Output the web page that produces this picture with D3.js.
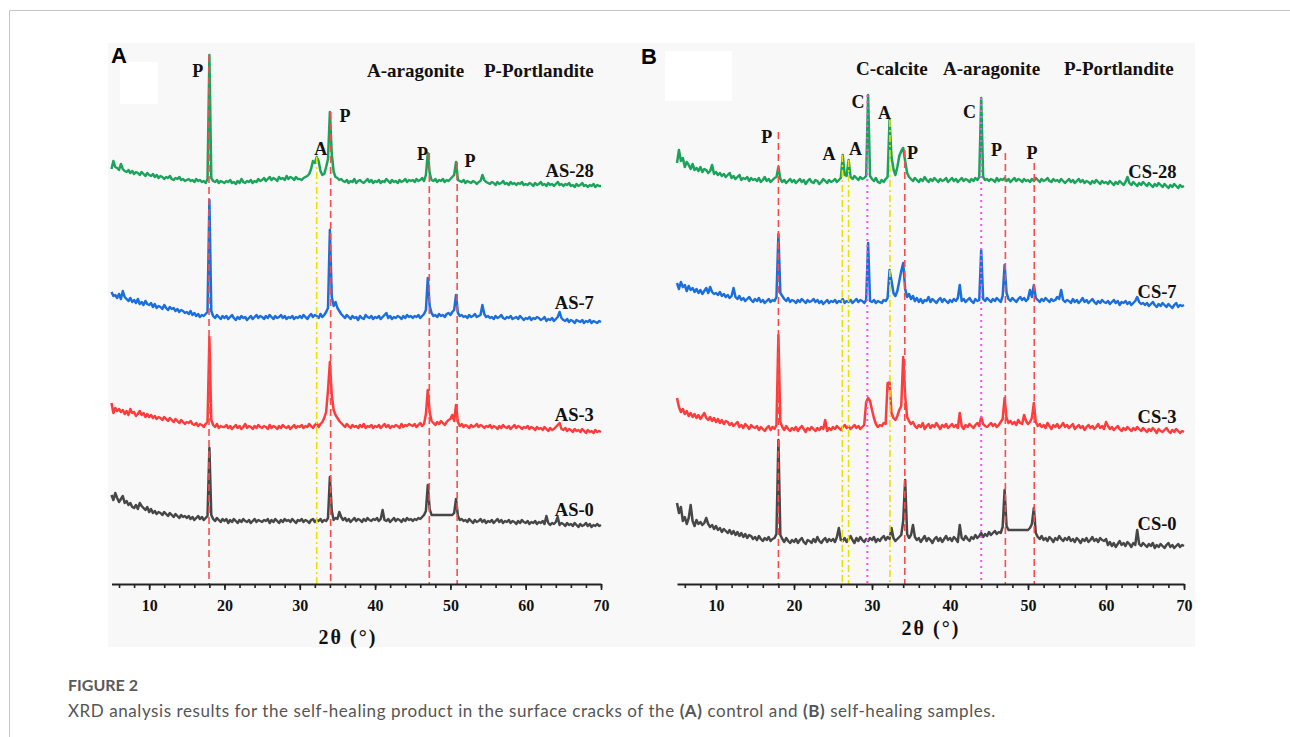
<!DOCTYPE html>
<html>
<head>
<meta charset="utf-8">
<script src="https://cdn.jsdelivr.net/npm/d3@7"></script>
<style>
body { margin: 0; background: #fff; }
.serif { font-family: "Liberation Serif", "Times New Roman", serif; font-weight: bold; fill: #111; }
.axis text { font-family: "Liberation Serif", "Times New Roman", serif; font-weight: bold; font-size: 16px; fill: #111; }
.axis path, .axis line { stroke: #222; }
.axis path { stroke-width: 2; }
.axis line { stroke-width: 1.6; }
</style>
</head>
<body>
<svg width="1290" height="737"></svg>
<script>
// 2-theta grid, 5..70 deg every 0.25 deg
var twoTheta = d3.range(261).map(function(i) { return 5 + i * 0.25; });
var xTicks = [10, 20, 30, 40, 50, 60, 70];

// intensities (a.u.), each relative to its own stacked baseline
var as28 = [
 20,28,22,21,19,25,20,18,17,19,16,18,15,17,16,14,17,15,13,16,
 14,13,15,12,14,11,13,12,10,12,11,13,10,9,11,10,12,9,10,8,
 9,10,8,9,7,10,8,9,7,8,6,10,134,11,8,7,9,6,8,7,
 6,8,7,9,6,7,5,8,6,10,7,6,8,7,9,6,8,7,10,8,
 9,11,8,10,12,9,11,10,8,12,10,11,9,13,10,12,11,9,12,10,
 10,9,11,12,13,15,20,28,26,32,28,18,14,15,22,30,77,35,17,12,
 11,9,10,8,7,9,6,8,7,10,6,8,9,7,6,8,10,7,9,6,
 8,7,9,6,8,7,10,8,6,9,7,8,6,9,7,8,10,7,9,8,
 9,7,10,8,9,11,8,14,36,16,9,8,10,7,9,8,10,7,9,8,
 10,12,14,27,9,8,7,9,6,8,7,6,8,7,5,7,8,14,9,7,
 6,5,7,6,4,7,5,6,8,5,6,4,7,5,6,4,6,5,7,4,
 5,4,6,5,3,6,4,5,7,4,5,3,6,4,5,3,5,7,4,5,
 3,5,4,6,3,4,2,5,3,4,6,3,4,2,4,3,5,2,4,3,
 3];
var as7 = [
 34,30,31,28,32,27,35,29,27,25,28,24,26,23,27,22,24,21,25,22,
 21,23,19,22,18,20,19,17,21,18,16,19,17,18,15,17,14,16,15,13,
 14,12,15,11,13,10,12,9,11,10,12,14,126,15,10,8,11,9,7,10,
 8,10,7,9,11,8,6,9,7,10,8,9,6,8,10,7,9,11,8,10,
 9,7,10,8,11,9,7,10,8,9,11,8,10,7,9,8,10,7,9,8,
 10,8,11,9,7,10,12,9,11,10,8,12,9,11,14,18,96,29,20,24,
 18,15,12,10,8,11,9,7,10,8,9,6,10,8,7,11,9,8,10,7,
 9,8,10,7,9,11,13,8,10,7,9,8,10,9,7,10,8,11,9,10,
 8,10,9,11,8,10,12,16,48,20,13,10,11,9,12,10,11,9,12,13,
 11,14,16,31,13,10,11,9,10,8,11,9,10,12,9,10,11,21,12,9,
 10,8,9,7,10,8,9,11,8,7,9,8,10,7,8,9,7,10,8,6,
 8,7,9,6,8,7,9,8,6,7,9,5,7,6,8,5,7,9,14,8,
 6,5,7,4,6,5,3,6,5,4,6,3,5,4,6,3,5,4,3,5,
 4];
var as3 = [
 33,23,28,25,27,24,26,22,25,21,27,23,24,20,22,25,21,23,19,22,
 19,21,18,20,17,19,18,16,19,17,15,18,16,14,17,15,13,16,14,12,
 14,13,15,12,11,13,10,12,11,9,12,14,99,16,11,9,12,8,10,9,
 9,11,8,10,7,9,11,8,10,7,9,12,8,10,9,7,10,8,11,9,
 8,10,9,7,11,8,10,9,7,10,8,11,9,8,10,7,9,11,8,10,
 9,11,8,10,9,12,10,8,11,13,9,12,14,18,24,46,74,41,26,21,
 18,15,13,11,9,12,10,8,11,9,10,8,11,9,12,8,10,9,11,8,
 10,9,11,8,10,12,9,11,8,10,9,11,10,8,12,9,11,10,12,11,
 10,12,9,11,13,10,12,22,46,24,15,13,11,14,12,15,13,11,14,16,
 17,21,15,31,14,10,12,9,11,10,8,11,9,10,12,9,11,10,8,10,
 9,11,8,10,9,7,10,8,11,9,8,10,7,9,11,8,10,9,7,9,
 8,10,7,9,8,6,9,7,8,6,9,7,5,8,6,7,9,11,13,7,
 6,8,5,7,6,4,7,5,6,4,7,5,3,6,4,5,3,6,4,5,
 4];
var as0 = [
 34,29,36,31,27,30,33,26,28,24,26,22,21,24,20,26,23,21,19,22,
 17,20,16,18,15,17,16,14,17,15,13,16,14,12,15,13,11,14,12,13,
 11,13,10,12,9,11,13,10,12,9,11,13,81,14,10,8,11,9,7,10,
 8,10,6,9,7,10,8,6,9,7,10,8,7,9,6,8,10,7,9,8,
 7,9,8,10,6,9,7,10,8,6,9,7,10,8,9,7,10,8,6,9,
 8,10,7,9,8,6,9,10,7,9,8,10,7,9,8,11,52,18,9,11,
 10,17,12,9,11,8,10,7,9,11,8,10,9,7,10,8,11,9,8,10,
 9,11,8,10,19,9,8,10,7,9,11,8,10,9,7,10,8,11,9,10,
 8,10,9,11,10,12,14,18,44,20,14,14,14,14,14,14,14,14,14,14,
 14,14,16,30,13,9,10,8,9,7,10,8,6,9,7,8,10,7,9,6,
 8,7,9,6,8,10,7,9,6,8,7,9,6,8,7,5,8,6,9,7,
 6,8,5,7,6,8,5,7,6,8,5,13,6,4,6,5,7,12,4,6,
 5,3,6,4,5,3,6,4,2,5,3,4,6,3,5,2,4,3,5,3,
 4];

var cs28 = [
 28,41,30,33,24,29,26,22,27,21,23,20,24,19,22,21,18,20,26,17,
 19,16,18,15,17,14,16,18,13,15,12,14,16,11,13,12,14,10,13,11,
 12,10,13,9,11,14,10,12,9,11,13,14,24,12,9,11,8,10,12,9,
 11,8,10,12,9,11,7,10,12,9,8,11,10,7,9,12,10,8,11,9,
 10,12,9,11,13,36,16,15,31,14,12,15,13,11,14,12,13,15,96,15,
 12,10,13,9,8,11,9,12,14,71,34,22,16,24,35,40,43,30,18,14,
 12,10,13,11,9,12,10,14,11,9,12,10,13,11,9,12,10,11,13,9,
 11,13,10,12,9,11,13,10,12,11,9,12,10,13,11,14,93,14,11,12,
 10,12,11,9,13,10,12,11,13,10,12,9,11,13,10,12,11,9,12,10,
 11,9,12,10,13,11,9,12,10,11,13,10,9,12,10,11,9,12,10,8,
 10,12,9,11,8,10,12,9,11,8,10,9,7,10,8,11,9,7,10,8,
 9,7,10,8,6,9,7,10,8,6,9,14,8,6,9,7,5,8,6,9,
 7,5,8,6,4,7,5,8,6,4,7,5,3,6,4,7,5,3,6,4,
 5];
var cs7 = [
 28,22,29,24,26,20,25,21,23,19,22,18,21,17,20,23,18,24,19,17,
 18,16,19,15,17,14,16,13,15,23,14,12,15,11,13,10,12,14,11,9,
 12,10,13,9,11,8,10,12,9,11,10,14,77,18,15,12,10,13,9,11,
 10,8,11,9,12,10,8,11,9,10,12,9,11,8,10,7,9,11,8,10,
 9,11,8,10,9,12,8,10,9,11,8,10,12,9,11,10,8,11,68,10,
 9,11,8,10,9,8,11,10,13,41,30,18,15,20,30,40,48,22,14,17,
 12,15,10,13,9,12,8,11,10,14,9,12,10,8,11,13,9,12,10,8,
 11,9,12,10,13,26,10,12,9,11,13,10,8,12,10,11,61,12,10,13,
 11,9,12,10,13,11,9,15,46,18,12,10,13,11,9,12,14,11,13,10,
 12,21,14,26,13,11,9,12,10,13,11,9,12,10,11,14,12,21,11,9,
 11,10,8,12,9,11,8,10,13,9,11,8,10,12,9,7,10,8,11,9,
 8,10,7,9,11,8,10,6,9,8,10,7,9,6,8,10,14,9,7,8,
 6,8,5,7,9,6,4,7,5,8,6,4,7,5,3,6,8,4,6,5,
 6];
var cs3 = [
 38,29,24,27,22,25,20,23,19,22,18,21,17,20,23,18,16,19,15,18,
 14,17,13,16,12,15,14,11,13,10,12,14,9,11,8,12,10,7,11,9,
 8,10,6,9,7,5,8,10,6,9,7,11,101,14,9,6,10,7,5,8,
 6,9,5,8,10,7,4,8,6,9,7,5,8,6,9,7,16,5,8,6,
 9,7,10,8,6,9,11,8,10,7,9,11,8,10,7,9,11,34,38,35,
 26,18,12,9,11,10,13,12,53,54,23,18,16,20,26,30,79,40,19,15,
 12,14,10,8,11,9,13,7,10,12,8,11,9,13,10,7,11,9,12,8,
 10,12,9,11,8,23,10,7,11,9,12,10,8,11,13,10,19,12,10,9,
 11,13,10,12,9,11,14,17,38,18,13,15,12,14,11,16,13,12,21,15,
 12,14,18,33,14,10,12,9,11,8,13,10,7,11,9,12,8,10,13,9,
 11,8,10,12,7,9,11,8,10,6,9,11,8,10,7,9,12,8,10,7,
 14,10,7,9,6,8,10,7,5,8,6,9,7,5,8,6,9,7,5,8,
 6,4,7,5,8,6,3,7,5,4,6,8,5,3,6,4,7,5,3,5,
 4];
var cs0 = [
 48,38,44,30,34,27,33,46,30,25,31,27,29,26,28,33,27,24,26,22,
 25,21,23,19,22,20,18,21,17,20,16,19,15,18,14,17,13,16,15,12,
 14,11,15,12,10,13,11,14,10,12,13,17,111,16,12,9,13,10,8,11,
 9,12,8,11,13,9,7,11,10,8,12,9,14,10,8,11,13,9,12,10,
 12,9,14,23,11,10,13,9,12,15,11,8,13,10,14,11,9,12,10,13,
 11,14,9,12,10,13,15,11,14,12,23,13,10,12,14,16,30,71,17,13,
 16,26,14,11,13,9,12,15,10,13,11,8,12,14,10,13,9,12,15,11,
 13,10,14,12,9,26,13,11,15,12,10,14,12,16,13,15,18,14,17,15,
 19,16,18,20,17,19,18,24,61,25,21,21,21,21,21,21,21,21,21,21,
 21,23,27,43,18,14,12,15,11,13,10,14,12,9,13,11,15,12,10,13,
 11,14,10,12,9,13,11,8,12,10,13,9,11,14,10,12,9,13,11,10,
 12,6,9,5,8,4,7,10,6,8,5,9,7,4,8,6,21,7,5,8,
 6,4,7,5,8,3,6,4,7,5,3,6,8,4,6,3,5,7,4,6,
 5];

var namesA = ["AS-28", "AS-7", "AS-3", "AS-0"];
var namesB = ["CS-28", "CS-7", "CS-3", "CS-0"];

// reflection markers: phase, 2theta, top of the guide line (a.u.)
var phasesA = ["P", "A", "P", "P", "P"];
var peaksA  = [17.95, 32.25, 34.1, 47.2, 50.9];
var topsA   = [529, 427, 472, 431, 422];
var phasesB = ["P", "A", "A", "C", "A", "P", "C", "P", "P"];
var peaksB  = [18, 26.2, 27, 29.4, 32.3, 34.2, 44, 47.1, 50.8];
var topsB   = [452, 429, 424, 489, 464, 434, 486, 431, 421];

var legendA = ["A-aragonite", "P-Portlandite"];
var legendB = ["C-calcite", "A-aragonite", "P-Portlandite"];

var caption = "XRD analysis results for the self-healing product in the surface cracks of the ";

// ---- layout / styling ----
var svg = d3.select("svg");
var seriesColors = ["#19a35b", "#1a6fdc", "#ff3b3b", "#474747"];
var phaseStyle = {
  P: {stroke: "#ff4a4a", dash: "7,4", width: 1.6},
  A: {stroke: "#ece000", dash: "7,3,2,3", width: 1.6},
  C: {stroke: "#ff4cff", dash: "2,4", width: 2}
};

var y = d3.scaleLinear().domain([0, 540]).range([584, 44]);

// frame + figure background
svg.append("line").attr("x1", 9.5).attr("x2", 1290).attr("y1", 10.5).attr("y2", 10.5)
   .attr("stroke", "#c6c6c6");
svg.append("line").attr("x1", 9.5).attr("x2", 9.5).attr("y1", 10.5).attr("y2", 737)
   .attr("stroke", "#c6c6c6");
svg.append("rect").attr("x", 108).attr("y", 43).attr("width", 1087).attr("height", 604)
   .attr("fill", "#f8f8f8");
svg.append("rect").attr("x", 120).attr("y", 62).attr("width", 38).attr("height", 42).attr("fill", "#fff");
svg.append("rect").attr("x", 665).attr("y", 51).attr("width", 67).attr("height", 50).attr("fill", "#fff");

var panels = [
  {
    letter: "A", letterX: 111, letterY: 63,
    range: [111.5, 601],
    series: [as28, as7, as3, as0], names: namesA,
    offsets: [395, 258, 148, 55],
    nameY: [413, 281, 169, 74],
    phases: phasesA, peaks: peaksA, tops: topsA,
    // peak letters: [2theta, a.u.]
    marks: [[16.45, 513], [32.8, 435], [36.0, 468], [46.3, 430], [52.6, 423]],
    legend: legendA, legendX: [367, 484], legendY: 70,
    titleX: 348, titleY: 637
  },
  {
    letter: "B", letterX: 641, letterY: 64,
    range: [677, 1184],
    series: [cs28, cs7, cs3, cs0], names: namesB,
    offsets: [393, 273, 148, 33],
    nameY: [412, 292, 167, 60],
    phases: phasesB, peaks: peaksB, tops: topsB,
    marks: [[16.5, 447], [24.5, 430], [27.9, 435], [28.2, 482], [31.6, 471], [35.2, 431], [42.5, 472], [45.95, 434], [50.5, 431]],
    legend: legendB, legendX: [856, 943, 1064], legendY: 68,
    titleX: 931, titleY: 628
  }
];

panels.forEach(function(p) {
  var x = d3.scaleLinear().domain([5, 70]).range(p.range);
  var g = svg.append("g");

  p.series.forEach(function(vals, k) {
    var line = d3.line()
      .x(function(d, i) { return x(twoTheta[i]); })
      .y(function(d) { return y(d + p.offsets[k]); });
    g.append("path")
      .attr("d", line(vals))
      .attr("fill", "none")
      .attr("stroke", seriesColors[k])
      .attr("stroke-width", 2.5)
      .attr("stroke-linejoin", "round");
    g.append("text")
      .attr("class", "serif")
      .attr("x", x(69.05))
      .attr("y", y(p.nameY[k]))
      .attr("dy", "0.35em")
      .attr("text-anchor", "end")
      .style("font-size", "18.5px")
      .text(p.names[k]);
  });

  p.peaks.forEach(function(pos, k) {
    var s = phaseStyle[p.phases[k]];
    g.append("line")
      .attr("x1", x(pos)).attr("x2", x(pos))
      .attr("y1", y(p.tops[k])).attr("y2", y(0))
      .attr("stroke", s.stroke)
      .attr("stroke-width", s.width)
      .attr("stroke-dasharray", s.dash);
    g.append("text")
      .attr("class", "serif")
      .attr("x", x(p.marks[k][0]))
      .attr("y", y(p.marks[k][1]))
      .attr("dy", "0.35em")
      .attr("text-anchor", "middle")
      .style("font-size", "18px")
      .text(p.phases[k]);
  });

  // axis: minor ticks every 2 deg, labelled major ticks every 10 deg
  g.append("g")
    .attr("class", "axis")
    .attr("transform", "translate(0," + y(0) + ")")
    .call(d3.axisBottom(x).tickValues(d3.range(6, 71, 2)).tickSize(4).tickSizeOuter(0).tickFormat(""));
  var major = g.append("g")
    .attr("class", "axis")
    .attr("transform", "translate(0," + y(0) + ")")
    .call(d3.axisBottom(x).tickValues(xTicks).tickSize(6).tickSizeOuter(0));
  major.select(".domain").remove();
  major.selectAll("text").attr("y", 21).attr("dy", "0.35em");

  g.append("text")
    .attr("class", "serif")
    .attr("x", p.titleX).attr("y", p.titleY)
    .attr("dy", "0.35em")
    .attr("text-anchor", "middle")
    .style("font-size", "20px")
    .style("letter-spacing", "2px")
    .text("2\u03b8 (\u00b0)");

  p.legend.forEach(function(t, k) {
    g.append("text")
      .attr("class", "serif")
      .attr("x", p.legendX[k]).attr("y", p.legendY)
      .attr("dy", "0.35em")
      .style("font-size", "19px")
      .text(t);
  });

  svg.append("text")
    .attr("x", p.letterX).attr("y", p.letterY)
    .style("font-family", "'Liberation Sans', Arial, sans-serif")
    .style("font-weight", "bold")
    .style("font-size", "22px")
    .attr("fill", "#000")
    .text(p.letter);
});

// caption
svg.append("text")
  .attr("x", 68).attr("y", 691)
  .style("font-family", "Lato, 'Open Sans', sans-serif")
  .style("font-size", "16px")
  .style("font-weight", "bold")
  .attr("fill", "#5a5a5a")
  .text("FIGURE 2");
var cap = svg.append("text")
  .attr("x", 68).attr("y", 717)
  .style("font-family", "Lato, 'Open Sans', sans-serif")
  .style("font-size", "17px")
  .style("letter-spacing", "0.57px")
  .attr("fill", "#555");
cap.append("tspan").text(caption);
cap.append("tspan").style("font-weight", "bold").text("(A)");
cap.append("tspan").text(" control and ");
cap.append("tspan").style("font-weight", "bold").text("(B)");
cap.append("tspan").text(" self-healing samples.");
</script>
</body>
</html>
